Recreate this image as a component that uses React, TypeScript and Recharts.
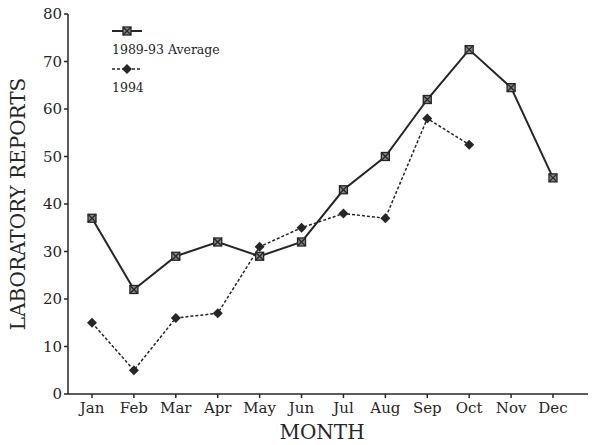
import { LineChart, Line, XAxis, YAxis } from 'recharts';

const months = ['Jan', 'Feb', 'Mar', 'Apr', 'May', 'Jun', 'Jul', 'Aug', 'Sep', 'Oct', 'Nov', 'Dec'];
const average = [37, 22, 29, 32, 29, 32, 43, 50, 62, 72.5, 64.5, 45.5];
const y1994 = [15, 5, 16, 17, 31, 35, 38, 37, 58, 52.5, null, null];
const yTicks = [0, 10, 20, 30, 40, 50, 60, 70, 80];

const data = months.map((m, i) => ({ month: m, avg: average[i], y94: y1994[i] }));

const INK = '#262626';
const FONT = '"DejaVu Serif", "Liberation Serif", serif';

function SquareDot(props: any) {
  const { cx, cy } = props;
  if (cx == null || cy == null) return null;
  return (
    <g>
      <rect x={cx - 4} y={cy - 4} width={8} height={8} fill="#888" stroke={INK} strokeWidth={1.3} />
      <path d={`M${cx - 4},${cy - 4}L${cx + 4},${cy + 4}M${cx + 4},${cy - 4}L${cx - 4},${cy + 4}`} stroke={INK} strokeWidth={1.3} />
    </g>
  );
}

function DiamondDot(props: any) {
  const { cx, cy } = props;
  if (cx == null || cy == null) return null;
  return <path d={`M${cx},${cy - 5}L${cx + 5},${cy}L${cx},${cy + 5}L${cx - 5},${cy}Z`} fill={INK} />;
}

function YLabel(props: any) {
  const vb = props.viewBox || { x: 0, y: 0, width: 68, height: 380 };
  const x = vb.x + 18;
  const y = vb.y + vb.height / 2;
  return (
    <text x={x} y={y} transform={`rotate(-90 ${x} ${y})`} textAnchor="middle" dominantBaseline="central"
      fill={INK} fontSize={20} fontFamily={FONT}>
      LABORATORY REPORTS
    </text>
  );
}

function LegendBox() {
  return (
    <div style={{ position: 'absolute', left: 112, top: 24, fontFamily: FONT, fontSize: 12.5, color: INK, lineHeight: '24px' }}>
      <svg width={30} height={14} style={{ display: 'block' }}>
        <line x1={0} y1={7} x2={30} y2={7} stroke={INK} strokeWidth={2} />
        <SquareDot cx={15} cy={7} />
      </svg>
      <div>1989-93 Average</div>
      <svg width={30} height={14} style={{ display: 'block' }}>
        <line x1={0} y1={7} x2={30} y2={7} stroke={INK} strokeWidth={1.5} strokeDasharray="3 2" />
        <DiamondDot cx={15} cy={7} />
      </svg>
      <div>1994</div>
    </div>
  );
}

export default function App() {
  return (
    <div style={{ position: 'absolute', left: 0, top: 0, width: 598, height: 445, background: '#fff' }}>
      <LineChart width={598} height={445} data={data} margin={{ top: 14, right: 10, bottom: 0, left: 0 }}>
        <XAxis
          dataKey="month"
          padding={{ left: 24, right: 35 }}
          height={51}
          interval={0}
          stroke={INK}
          strokeWidth={1.5}
          tickSize={4}
          tick={{ fill: INK, fontSize: 15, fontFamily: FONT, dy: 2 }}
          label={{ value: 'MONTH', position: 'insideBottom', offset: 6, dx: -6, fill: INK, fontSize: 20, fontFamily: FONT }}
        />
        <XAxis xAxisId="top" orientation="top" dataKey="month" height={0} tick={false} tickLine={false} stroke={INK} strokeWidth={1.5} />
        <YAxis
          width={68}
          domain={[0, 80]}
          ticks={yTicks}
          interval={0}
          stroke={INK}
          strokeWidth={1.5}
          tickSize={4}
          tick={{ fill: INK, fontSize: 15, fontFamily: FONT }}
          label={<YLabel />}
        />
        <YAxis yAxisId="right" orientation="right" width={0} tick={false} tickLine={false} stroke={INK} strokeWidth={1.5} />
        <Line dataKey="avg" stroke={INK} strokeWidth={2} dot={<SquareDot />} isAnimationActive={false} />
        <Line dataKey="y94" stroke={INK} strokeWidth={1.5} strokeDasharray="3 2" dot={<DiamondDot />} isAnimationActive={false} />
      </LineChart>
      <LegendBox />
    </div>
  );
}
